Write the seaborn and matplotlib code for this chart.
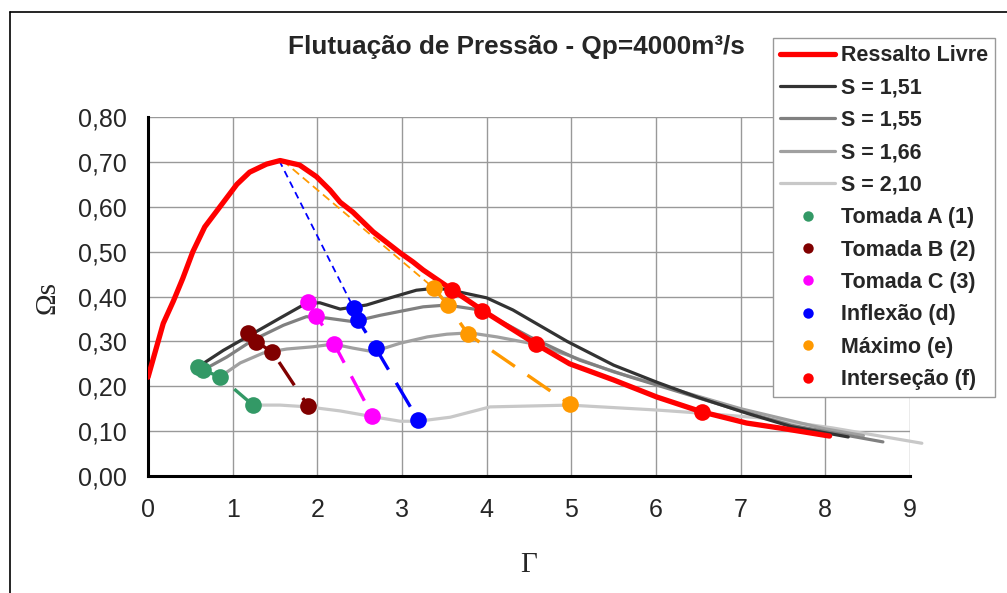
import numpy as np
import seaborn as sns
import matplotlib.pyplot as plt
from matplotlib.lines import Line2D

# Ressalto livre curve
red_x = [0.0, 0.18, 0.30, 0.41, 0.53, 0.67, 0.85, 1.05, 1.20, 1.40, 1.56, 1.79, 1.99, 2.15, 2.27,
         2.42, 2.66, 2.98, 3.13, 3.25, 3.60, 3.96, 4.59, 4.98, 5.50, 6.01, 6.54, 7.07, 7.46, 8.05]
red_y = [0.220, 0.340, 0.390, 0.440, 0.500, 0.555, 0.600, 0.650, 0.677, 0.695, 0.703, 0.693, 0.667, 0.637, 0.610,
         0.588, 0.544, 0.497, 0.477, 0.459, 0.414, 0.368, 0.293, 0.250, 0.214, 0.176, 0.143, 0.118, 0.107, 0.089]

# S curves
s151_x = [0.59, 0.89, 1.17, 1.56, 1.87, 2.03, 2.27, 2.58, 2.86, 3.17, 3.37, 3.53, 4.00, 4.31, 4.95, 5.50, 6.01, 6.50, 7.07, 7.60, 8.27]
s151_y = [0.243, 0.280, 0.310, 0.352, 0.385, 0.386, 0.372, 0.381, 0.397, 0.414, 0.418, 0.416, 0.397, 0.370, 0.300, 0.247, 0.209, 0.175, 0.140, 0.110, 0.087]

s155_x = [0.65, 0.93, 1.24, 1.60, 1.87, 2.11, 2.42, 2.74, 3.25, 3.53, 3.92, 4.51, 5.10, 5.69, 6.28, 7.00, 7.60, 8.68]
s155_y = [0.236, 0.265, 0.303, 0.336, 0.355, 0.352, 0.344, 0.358, 0.377, 0.381, 0.370, 0.310, 0.258, 0.221, 0.187, 0.145, 0.113, 0.076]

s166_x = [0.85, 1.09, 1.36, 1.64, 1.95, 2.19, 2.42, 2.66, 2.98, 3.30, 3.53, 3.80, 4.12, 4.51, 4.95, 5.50, 6.00, 7.00, 8.00, 8.45]
s166_y = [0.221, 0.252, 0.274, 0.283, 0.288, 0.294, 0.285, 0.277, 0.296, 0.310, 0.316, 0.319, 0.310, 0.296, 0.270, 0.232, 0.205, 0.150, 0.105, 0.090]

s210_x = [1.24, 1.56, 1.89, 2.27, 2.66, 2.98, 3.19, 3.57, 4.04, 4.51, 4.98, 6.01, 6.54, 7.26, 8.09, 9.14]
s210_y = [0.158, 0.158, 0.154, 0.145, 0.132, 0.122, 0.122, 0.131, 0.154, 0.156, 0.158, 0.147, 0.140, 0.129, 0.107, 0.073]

# point series
tomA_x = [0.59, 0.65, 0.85, 1.24]
tomA_y = [0.243, 0.236, 0.221, 0.158]
tomB_x = [1.18, 1.28, 1.47, 1.89]
tomB_y = [0.318, 0.299, 0.276, 0.156]
tomC_x = [1.89, 1.99, 2.20, 2.65]
tomC_y = [0.388, 0.357, 0.294, 0.134]
infl_x = [2.43, 2.48, 2.69, 3.19]
infl_y = [0.374, 0.348, 0.285, 0.125]
maxi_x = [3.38, 3.54, 3.78, 4.98]
maxi_y = [0.418, 0.381, 0.316, 0.160]
inter_x = [3.59, 3.95, 4.58, 6.54]
inter_y = [0.414, 0.368, 0.294, 0.143]
peak_x, peak_y = 1.55, 0.703

yticks = [0.0, 0.1, 0.2, 0.3, 0.4, 0.5, 0.6, 0.7, 0.8]
ylabels = ['0,00', '0,10', '0,20', '0,30', '0,40', '0,50', '0,60', '0,70', '0,80']

sns.set_style('whitegrid')
plt.rcParams['font.family'] = ['Liberation Sans', 'DejaVu Sans']
plt.rcParams['lines.scale_dashes'] = False

fig = plt.figure(figsize=(10.07, 5.93), dpi=100)
ax = fig.add_axes([148 / 1007, 1 - 476 / 593, (910 - 148) / 1007, (476 - 117) / 593])

s_lines = [('S = 1,51', s151_x, s151_y, '#333333'),
           ('S = 1,55', s155_x, s155_y, '#808080'),
           ('S = 1,66', s166_x, s166_y, '#a0a0a0'),
           ('S = 2,10', s210_x, s210_y, '#c8c8c8')]
for lab, xs, ys, c in s_lines[::-1]:
    sns.lineplot(x=xs, y=ys, ax=ax, color=c, linewidth=2.3, sort=False, estimator=None,
                 clip_on=(lab != 'S = 2,10'), zorder=3)

# thin dashed guides from the peak
sns.lineplot(x=[peak_x, infl_x[0]], y=[peak_y, infl_y[0]], ax=ax, color='#0000ff', linewidth=1.3,
             sort=False, estimator=None, zorder=3.5)
ax.lines[-1].set_dashes((5, 3.5))
sns.lineplot(x=[peak_x + 0.04, maxi_x[0]], y=[peak_y, maxi_y[0]], ax=ax, color='#ff9900', linewidth=1.3,
             sort=False, estimator=None, zorder=3.5)
ax.lines[-1].set_dashes((6, 3.5))

sns.lineplot(x=red_x, y=red_y, ax=ax, color='#ff0000', linewidth=3.8, sort=False, estimator=None, zorder=4)

pts = [('Tomada A (1)', tomA_x, tomA_y, '#339966', True),
       ('Tomada B (2)', tomB_x, tomB_y, '#800000', True),
       ('Tomada C (3)', tomC_x, tomC_y, '#ff00ff', True),
       ('Inflexão (d)', infl_x, infl_y, '#0000ff', True),
       ('Máximo (e)', maxi_x, maxi_y, '#ff9900', True),
       ('Interseção (f)', inter_x, inter_y, '#ff0000', False)]
for lab, xs, ys, c, dashed in pts:
    if dashed:
        sns.lineplot(x=xs, y=ys, ax=ax, color=c, linewidth=2.4, sort=False, estimator=None, zorder=5)
        ax.lines[-1].set_dashes((20, 11))
    ax.plot(xs, ys, 'o', color=c, markersize=12, markeredgewidth=0, zorder=6)

ax.set_xlim(0, 9)
ax.set_ylim(0, 0.8)
ax.set_xticks(range(10))
ax.set_yticks(yticks)
ax.set_yticklabels(ylabels)
ax.grid(True, color='#999999', linewidth=1)
ax.set_axisbelow(True)
for side in ['top', 'right']:
    ax.spines[side].set_visible(False)
for side in ['left', 'bottom']:
    ax.spines[side].set_color('black')
    ax.spines[side].set_linewidth(2.2)
ax.tick_params(axis='both', direction='out', length=7, width=2.2, color='black', labelsize=18)
ax.tick_params(axis='y', pad=8)
ax.tick_params(axis='x', pad=9)
ax.set_xlabel('')
ax.set_ylabel('')

fig.text(516 / 1007, 1 - 47 / 593, 'Flutuação de Pressão - Qp=4000m³/s', ha='center', va='center',
         fontsize=18.8, fontweight='bold')
fig.text(47 / 1007, 1 - 298 / 593, 'Ωs', ha='center', va='center', rotation=90,
         fontsize=21, family='Liberation Serif')
fig.text(529 / 1007, 1 - 565 / 593, 'Γ', ha='center', va='center', fontsize=21, family='Liberation Serif')

# outer chart frame (top and left edges visible)
fig.add_artist(Line2D([9.5 / 1007, 9.5 / 1007], [0, 1 - 12 / 593], transform=fig.transFigure,
                      color='black', linewidth=1.2))
fig.add_artist(Line2D([9.5 / 1007, 1], [1 - 12 / 593, 1 - 12 / 593], transform=fig.transFigure,
                      color='black', linewidth=1.2))

handles = [Line2D([], [], color='#ff0000', linewidth=3.8)]
labels = ['Ressalto Livre']
for lab, xs, ys, c in s_lines:
    handles.append(Line2D([], [], color=c, linewidth=2.3))
    labels.append(lab)
for lab, xs, ys, c, dashed in pts:
    handles.append(Line2D([], [], marker='o', linestyle='none', color=c, markersize=7.5, markeredgewidth=0))
    labels.append(lab)

leg = fig.legend(handles, labels, loc='upper left', bbox_to_anchor=(773 / 1007, 1 - 38 / 593),
                 borderaxespad=0, frameon=True, fancybox=False, edgecolor='#999999', framealpha=1,
                 prop={'weight': 'bold', 'size': 15.5}, handlelength=2.56, handletextpad=0.28,
                 labelspacing=0.53, borderpad=0.33)
leg.get_frame().set_linewidth(1)

plt.savefig('out.png', dpi=100)
